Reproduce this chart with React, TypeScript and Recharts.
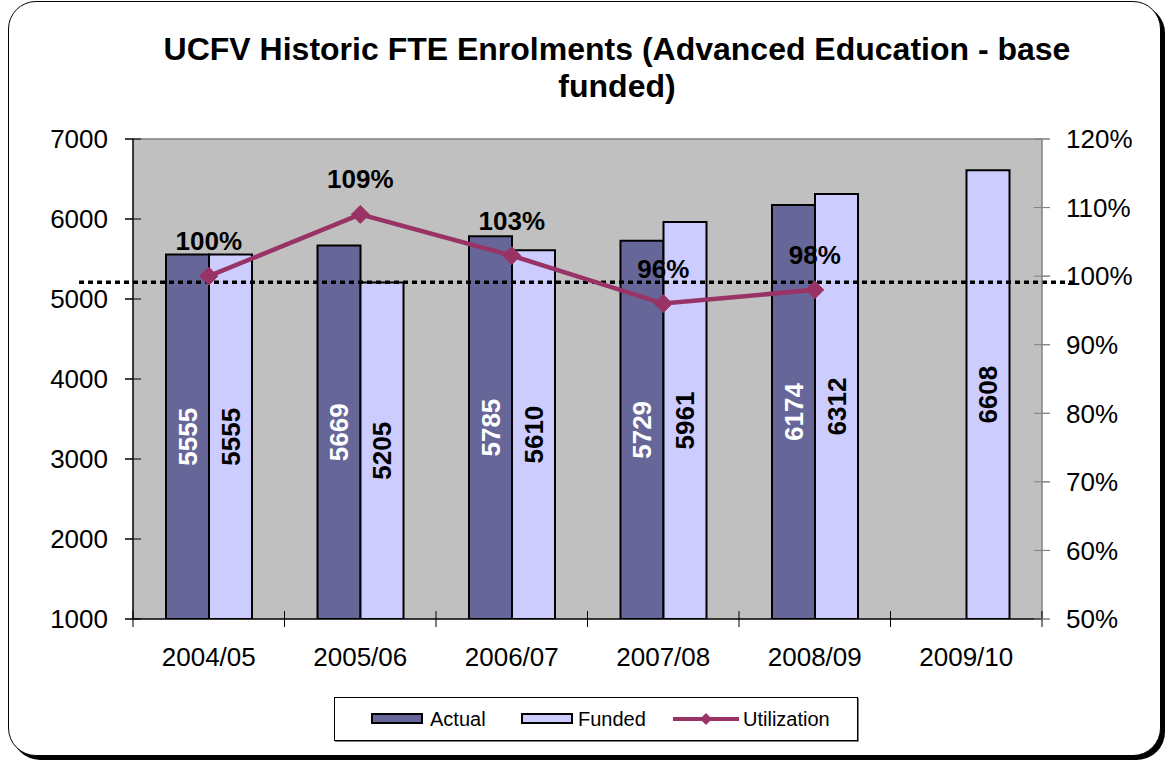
import React from 'react';
import {
  ComposedChart,
  Bar,
  Line,
  XAxis,
  YAxis,
  CartesianGrid,
  ReferenceLine,
  LabelList,
  Legend,
} from 'recharts';

const years = ['2004/05', '2005/06', '2006/07', '2007/08', '2008/09', '2009/10'];
const actual = [5555, 5669, 5785, 5729, 6174, null];
const funded = [5555, 5205, 5610, 5961, 6312, 6608];
const utilization = [100, 109, 103, 96, 98, null];
const leftTicks = [1000, 2000, 3000, 4000, 5000, 6000, 7000];
const rightTicks = [50, 60, 70, 80, 90, 100, 110, 120];
const referenceLevel = 5210;

const data = years.map((year, i) => ({
  year,
  actual: actual[i],
  funded: funded[i],
  utilization: utilization[i],
}));

const FONT = '"Liberation Sans", Arial, sans-serif';
const ACTUAL_COLOR = '#666699';
const FUNDED_COLOR = '#CCCCFF';
const LINE_COLOR = '#993366';

const barLabel = (color: string) => (props: any) => {
  const { x, y, width, height, value } = props;
  if (value == null) return null;
  const cx = Number(x) + Number(width) / 2;
  const cy = Number(y) + Number(height) / 2;
  return (
    <text
      x={cx}
      y={cy}
      transform={`rotate(-90 ${cx} ${cy})`}
      textAnchor="middle"
      dy="0.36em"
      fill={color}
      fontSize={26}
      fontWeight="bold"
      fontFamily={FONT}
    >
      {value}
    </text>
  );
};

const lineLabel = (props: any) => {
  const { x, y, value } = props;
  if (value == null) return null;
  return (
    <text
      x={x}
      y={Number(y) - 26}
      textAnchor="middle"
      fontSize={26}
      fontWeight="bold"
      fill="#000"
      fontFamily={FONT}
    >
      {value}%
    </text>
  );
};

const Diamond = (props: any) => {
  const { cx, cy } = props;
  if (cx == null || cy == null || isNaN(cy)) return <g />;
  const r = 9;
  return (
    <path
      d={`M${cx} ${cy - r} L${cx + r} ${cy} L${cx} ${cy + r} L${cx - r} ${cy} Z`}
      fill={LINE_COLOR}
      stroke={LINE_COLOR}
    />
  );
};

const LeftTick = (props: any) => {
  const { x, y, payload } = props;
  return (
    <g>
      <line x1={x + 17} y1={y} x2={x + 33} y2={y} stroke="#000" strokeWidth={1} />
      <text x={x} y={y} dy="0.355em" textAnchor="end" fontSize={26} fill="#000" fontFamily={FONT}>
        {payload.value}
      </text>
    </g>
  );
};

const RightTick = (props: any) => {
  const { x, y, payload } = props;
  return (
    <g>
      <line x1={x - 32} y1={y} x2={x - 16} y2={y} stroke="#808080" strokeWidth={1} />
      <text x={x} y={y} dy="0.355em" textAnchor="start" fontSize={26} fill="#000" fontFamily={FONT}>
        {payload.value}%
      </text>
    </g>
  );
};

const BottomTick = (props: any) => {
  const { x, y, payload, index } = props;
  const off = payload && payload.offset ? payload.offset : 0;
  return (
    <g>
      {off ? <line x1={x - off} y1={y - 37} x2={x - off} y2={y - 21} stroke="#000" strokeWidth={1} /> : null}
      {off && index === years.length - 1 ? (
        <line x1={x + off} y1={y - 37} x2={x + off} y2={y - 21} stroke="#000" strokeWidth={1} />
      ) : null}
      <text x={x} y={y} dy="0.71em" textAnchor="middle" fontSize={26} fill="#000" fontFamily={FONT}>
        {payload.value}
      </text>
    </g>
  );
};

const DottedShape = (props: any) => {
  const { x1, y1, x2, y2 } = props;
  return (
    <line
      x1={Number(x1) - 54}
      y1={y1}
      x2={Number(x2) + 31}
      y2={y2}
      stroke="#000"
      strokeWidth={3.5}
      strokeDasharray="5 4"
    />
  );
};

const LegendBox = () => (
  <div
    style={{
      position: 'relative',
      width: 524,
      height: 44,
      border: '1px solid #000',
      boxShadow: '1px 1px 0 #808080',
      background: '#fff',
      boxSizing: 'border-box',
      fontFamily: FONT,
      fontSize: 20,
      color: '#000',
    }}
  >
    <div
      style={{
        position: 'absolute',
        left: 36,
        top: 15,
        width: 52,
        height: 11,
        background: ACTUAL_COLOR,
        border: '2px solid #000',
        boxSizing: 'border-box',
      }}
    />
    <span style={{ position: 'absolute', left: 95, top: 8, lineHeight: '26px', whiteSpace: 'nowrap' }}>Actual</span>
    <div
      style={{
        position: 'absolute',
        left: 186,
        top: 15,
        width: 52,
        height: 11,
        background: FUNDED_COLOR,
        border: '2px solid #000',
        boxSizing: 'border-box',
      }}
    />
    <span style={{ position: 'absolute', left: 243, top: 8, lineHeight: '26px', whiteSpace: 'nowrap' }}>Funded</span>
    <svg style={{ position: 'absolute', left: 338, top: 10 }} width={66} height={22}>
      <line x1={0} y1={11} x2={66} y2={11} stroke={LINE_COLOR} strokeWidth={4} />
      <path d="M33 5 L39 11 L33 17 L27 11 Z" fill={LINE_COLOR} />
    </svg>
    <span style={{ position: 'absolute', left: 408, top: 8, lineHeight: '26px', whiteSpace: 'nowrap' }}>Utilization</span>
  </div>
);

export default function App() {
  return (
    <div style={{ position: 'absolute', left: 0, top: 0, width: 1169, height: 761, background: '#fff' }}>
      <div
        style={{
          position: 'absolute',
          left: 8,
          top: 1,
          width: 1153,
          height: 755,
          border: '1.5px solid #000',
          borderRadius: 28,
          boxShadow: '4px 4px 0 #000',
          boxSizing: 'border-box',
          background: '#fff',
        }}
      />
      <div
        style={{
          position: 'absolute',
          left: 117,
          top: 31,
          width: 1000,
          textAlign: 'center',
          fontFamily: FONT,
          fontSize: 32,
          fontWeight: 'bold',
          lineHeight: '37px',
          color: '#000',
          whiteSpace: 'nowrap',
        }}
      >
        UCFV Historic FTE Enrolments (Advanced Education - base
        <br />
        funded)
      </div>
      <div style={{ position: 'absolute', left: 0, top: 0 }}>
        <ComposedChart
          width={1169}
          height={761}
          data={data}
          margin={{ top: 139, right: 0, left: 0, bottom: 102 }}
          barGap={0}
          style={{ fontFamily: FONT }}
        >
          <CartesianGrid yAxisId="left" horizontal={false} vertical={false} fill="#C0C0C0" />
          <XAxis
            dataKey="year"
            height={40}
            tickSize={8}
            tickMargin={21}
            tickLine={false}
            axisLine={{ stroke: '#000', strokeWidth: 1.5 }}
            tick={<BottomTick />}
            interval={0}
          />
          <YAxis
            yAxisId="left"
            orientation="left"
            width={133}
            domain={[1000, 7000]}
            ticks={leftTicks}
            tickSize={8}
            tickMargin={17}
            axisLine={{ stroke: '#000', strokeWidth: 1.5 }}
            tickLine={{ stroke: '#000' }}
            tick={<LeftTick />}
            allowDataOverflow
          />
          <YAxis
            yAxisId="right"
            orientation="right"
            width={127}
            domain={[50, 120]}
            ticks={rightTicks}
            tickSize={8}
            tickMargin={16}
            axisLine={{ stroke: '#808080', strokeWidth: 1.5 }}
            tickLine={{ stroke: '#808080' }}
            tick={<RightTick />}
            allowDataOverflow
          />
          <ReferenceLine yAxisId="left" y={7000} stroke="#808080" strokeWidth={1.5} />
          <Bar
            yAxisId="left"
            dataKey="actual"
            name="Actual"
            fill={ACTUAL_COLOR}
            stroke="#000"
            strokeWidth={2}
            barSize={43}
            isAnimationActive={false}
          >
            <LabelList dataKey="actual" content={barLabel('#fff')} />
          </Bar>
          <Bar
            yAxisId="left"
            dataKey="funded"
            name="Funded"
            fill={FUNDED_COLOR}
            stroke="#000"
            strokeWidth={2}
            barSize={43}
            isAnimationActive={false}
          >
            <LabelList dataKey="funded" content={barLabel('#000')} />
          </Bar>
          <ReferenceLine yAxisId="left" y={referenceLevel} shape={DottedShape} ifOverflow="visible" />
          <Line
            yAxisId="right"
            dataKey="utilization"
            name="Utilization"
            stroke={LINE_COLOR}
            strokeWidth={4.5}
            dot={<Diamond />}
            activeDot={false}
            isAnimationActive={false}
          >
            <LabelList dataKey="utilization" content={lineLabel} />
          </Line>
          <Legend
            layout="vertical"
            align="center"
            verticalAlign="middle"
            content={LegendBox}
            wrapperStyle={{ left: 334, top: 697, width: 524, height: 44 }}
          />
        </ComposedChart>
      </div>
    </div>
  );
}
